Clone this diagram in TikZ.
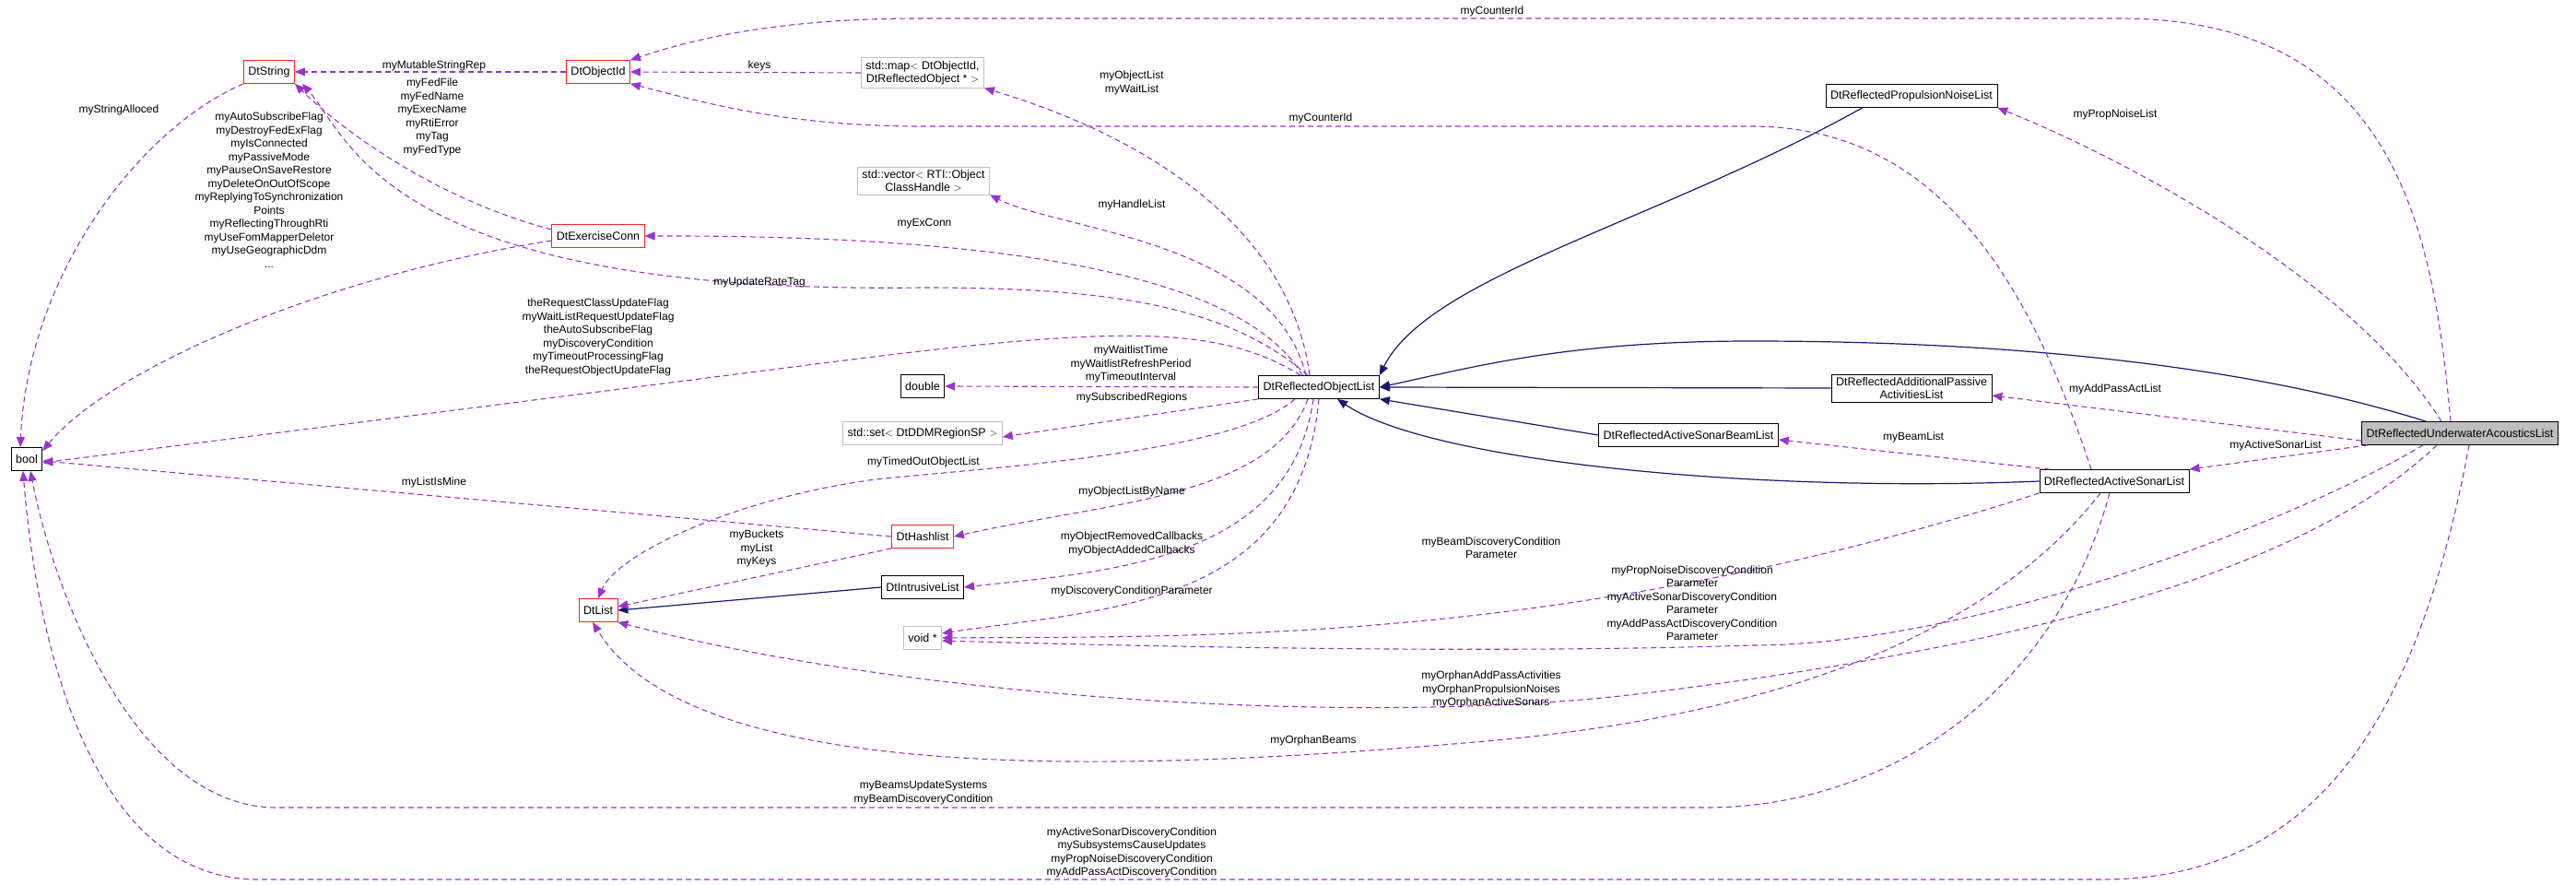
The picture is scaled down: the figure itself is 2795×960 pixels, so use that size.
\documentclass[tikz,border=0pt]{standalone}
\usepackage{fontspec}
\setmainfont{Liberation Sans}
\usepackage{tikz}
\usetikzlibrary{arrows.meta}

\definecolor{usecol}{HTML}{9A32CD}
\definecolor{inhcol}{HTML}{191970}
\definecolor{redbox}{HTML}{FF2020}
\definecolor{graybox}{HTML}{BFBFBF}

\tikzset{
  cls/.style={draw=black, thick, fill=white, inner xsep=5pt, minimum height=25pt, font=\fontsize{12.5}{14}\selectfont, align=center},
  redcls/.style={cls, draw=redbox},
  extcls/.style={cls, draw=graybox},
  maincls/.style={cls, fill=graybox},
  use/.style={draw=usecol, line width=1.1pt, dash pattern=on 6pt off 4pt, -{Triangle[length=11pt,width=9pt,fill=usecol]}},
  inh/.style={draw=inhcol, line width=1.2pt, -{Triangle[length=11pt,width=9pt,fill=inhcol]}},
  lbl/.style={font=\fontsize{12}{14.5}\selectfont, align=center, inner sep=0pt}
}

\begin{document}
\begin{tikzpicture}[x=1pt,y=-1pt]
        \useasboundingbox (0,0) rectangle (2795,960);
        % classes
        \node [redcls]  (str)   at (292,78)   {DtString};
        \node [redcls]  (oid)   at (649,78)   {DtObjectId};
        \node [redcls]  (exc)   at (649,256)  {DtExerciseConn};
        \node [cls]     (bool)  at (29,498)   {bool};
        \node [extcls]  (map)   at (1001,79)  {std::map$<$ DtObjectId,\\DtReflectedObject * $>$};
        \node [extcls]  (vec)   at (1002,196) {std::vector$<$ RTI::Object\\ClassHandle $>$};
        \node [cls]     (dbl)   at (1001,419) {double};
        \node [extcls]  (set)   at (1001,470) {std::set$<$ DtDDMRegionSP $>$};
        \node [cls]     (rol)   at (1431,420) {DtReflectedObjectList};
        \node [cls]     (pnl)   at (2074,104) {DtReflectedPropulsionNoiseList};
        \node [cls]     (apl)   at (2074,421) {DtReflectedAdditionalPassive\\ActivitiesList};
        \node [cls]     (sbl)   at (1832,472) {DtReflectedActiveSonarBeamList};
        \node [maincls] (ual)   at (2669,470) {DtReflectedUnderwaterAcousticsList};
        \node [cls]     (asl)   at (2294,522) {DtReflectedActiveSonarList};
        \node [redcls]  (hash)  at (1001,582) {DtHashlist};
        \node [cls]     (ilist) at (1001,637) {DtIntrusiveList};
        \node [redcls]  (list)  at (649,662)  {DtList};
        \node [extcls]  (void)  at (1001,692) {void *};

        % inheritance
        \draw [inh] (pnl.south west) ++(40,0) .. controls (1800,240) and (1550,300) .. (rol.north east);
        \draw [inh] (ual.north west) ++(70,0) .. controls (2450,400) and (2200,370) .. (1900,370) .. controls (1700,370) and (1600,398) .. (rol.east);
        \draw [inh] (apl.west) -- (rol.east);
        \draw [inh] (sbl.west) -- (rol.south east);
        \draw [inh] (asl.west) .. controls (1900,535) and (1550,500) .. ([xshift=20pt]rol.south);
        \draw [inh] (ilist.west) -- (list.east);

        % usage
        \draw [use] (str.south west) .. controls (150,140) and (30,300) .. ([xshift=-7pt]bool.north);           % myStringAlloced
        \draw [use] (oid.west) -- (str.east);                                                                       % myMutableStringRep
        \draw [use] (exc.west) ++(0,-7) .. controls (470,215) and (370,140) .. (str.south east);                   % myFedFile ...
        \draw [use] (exc.west) ++(0,5) .. controls (350,300) and (120,400) .. ([yshift=-4pt]bool.north east);     % myAutoSubscribeFlag ...
        \draw [use] (rol.north) ++(-12,0) .. controls (1330,330) and (1200,312) .. (1000,312) .. controls (420,320) and (380,150) .. ([xshift=8pt]str.south east); % myUpdateRateTag
        \draw [use] (rol.north) ++(-20,0) .. controls (1320,350) and (1200,355) .. (900,393) -- ([yshift=-4pt]bool.east); % theRequestClassUpdateFlag ...
        \draw [use] (map.west) -- (oid.east);                                                                       % keys
        \draw [use] ([xshift=-10pt]ual.north) .. controls (2640,250) and (2600,20) .. (2300,20) -- (1000,20) .. controls (850,20) and (760,40) .. (oid.north east); % myCounterId
        \draw [use] ([xshift=-25pt]asl.north) .. controls (2200,300) and (2100,137) .. (1900,137) -- (1000,137) .. controls (850,137) and (760,110) .. (oid.south east); % myCounterId
        \draw [use] (rol.north) ++(-10,0) .. controls (1400,250) and (1250,150) .. (map.south east);              % myObjectList
        \draw [use] (rol.north) ++(-14,0) .. controls (1380,260) and (1150,250) .. (vec.south east);              % myHandleList
        \draw [use] (rol.north) ++(-18,0) .. controls (1350,300) and (1100,255) .. (exc.east);                    % myExConn
        \draw [use] (rol.west) -- (dbl.east);                                                                       % myWaitlistTime
        \draw [use] (rol.south west) -- ([yshift=-4pt]set.east);                                                  % mySubscribedRegions
        \draw [use] (rol.south) ++(-26,0) .. controls (1340,490) and (1100,505) .. (950,520) .. controls (800,540) and (670,600) .. (list.north); % myTimedOutObjectList
        \draw [use] (rol.south) ++(-12,0) .. controls (1380,540) and (1200,545) .. (hash.east);                   % myObjectListByName
        \draw [use] (rol.south) ++(-6,0) .. controls (1400,610) and (1200,620) .. (ilist.east);                    % myObjectRemovedCallbacks
        \draw [use] (rol.south) .. controls (1410,660) and (1200,660) .. ([yshift=5pt]void.east);                  % myDiscoveryConditionParameter
        \draw [use] (hash.west) -- ([yshift=-2pt]bool.east);                                                       % myListIsMine
        \draw [use] (hash.south west) -- ([yshift=4pt]list.east);                                                  % myBuckets
        \draw [use] ([xshift=-20pt]ual.north) .. controls (2550,300) and (2300,170) .. (pnl.south east);          % myPropNoiseList
        \draw [use] ([yshift=-8pt]ual.west) -- ([yshift=-8pt]apl.east);                                             % myAddPassActList
        \draw [use] ([xshift=-100pt]ual.south) -- (asl.north east);                                                 % myActiveSonarList
        \draw [use] ([xshift=-70pt]asl.north) -- ([yshift=-5pt]sbl.east);                                           % myBeamList
        \draw [use] (asl.south west) .. controls (1700,700) and (1300,690) .. (void.east);                         % myBeamDiscoveryConditionParameter
        \draw [use] ([xshift=-40pt]ual.south) .. controls (2500,560) and (2150,700) .. (1900,700) .. controls (1600,710) and (1200,700) .. ([yshift=-3pt]void.east); % myPropNoiseDiscoveryConditionParameter
        \draw [use] ([xshift=-25pt]ual.south) .. controls (2500,620) and (2200,700) .. (1800,750) .. controls (1500,790) and (1000,760) .. (list.south east); % myOrphanAddPassActivities
        \draw [use] ([xshift=-15pt]asl.south) .. controls (2150,700) and (1900,780) .. (1600,805) .. controls (1200,840) and (750,850) .. ([xshift=-6pt]list.south); % myOrphanBeams
        \draw [use] ([xshift=-5pt]asl.south) .. controls (2230,750) and (2050,876) .. (1850,876) -- (300,876) .. controls (150,876) and (60,650) .. ([xshift=4pt]bool.south); % myBeamsUpdateSystems
        \draw [use] ([xshift=10pt]ual.south) .. controls (2620,800) and (2500,954) .. (2280,954) -- (280,954) .. controls (100,954) and (40,700) .. ([xshift=-4pt]bool.south); % myActiveSonarDiscoveryCondition

        % labels
        \node [lbl] (l1)  at (129,119)  {myStringAlloced};
        \node [lbl] (l2)  at (471,71)   {myMutableStringRep};
        \node [lbl] (l3)  at (469,127)  {myFedFile\\myFedName\\myExecName\\myRtiError\\myTag\\myFedType};
        \node [lbl] (l4)  at (292,206)  {myAutoSubscribeFlag\\myDestroyFedExFlag\\myIsConnected\\myPassiveMode\\myPauseOnSaveRestore\\myDeleteOnOutOfScope\\myReplyingToSynchronization\\Points\\myReflectingThroughRti\\myUseFomMapperDeletor\\myUseGeographicDdm\\...};
        \node [lbl] (l5)  at (824,306)  {myUpdateRateTag};
        \node [lbl] (l6)  at (649,366)  {theRequestClassUpdateFlag\\myWaitListRequestUpdateFlag\\theAutoSubscribeFlag\\myDiscoveryCondition\\myTimeoutProcessingFlag\\theRequestObjectUpdateFlag};
        \node [lbl] (l7)  at (824,71)   {keys};
        \node [lbl] (l8)  at (1619,12)  {myCounterId};
        \node [lbl] (l9)  at (1433,128) {myCounterId};
        \node [lbl] (l10) at (1228,90)  {myObjectList\\myWaitList};
        \node [lbl] (l11) at (1228,222) {myHandleList};
        \node [lbl] (l12) at (1003,243) {myExConn};
        \node [lbl] (l13) at (1227,395) {myWaitlistTime\\myWaitlistRefreshPeriod\\myTimeoutInterval};
        \node [lbl] (l14) at (1228,431) {mySubscribedRegions};
        \node [lbl] (l15) at (1002,501) {myTimedOutObjectList};
        \node [lbl] (l16) at (1228,533) {myObjectListByName};
        \node [lbl] (l17) at (1228,590) {myObjectRemovedCallbacks\\myObjectAddedCallbacks};
        \node [lbl] (l18) at (1228,641) {myDiscoveryConditionParameter};
        \node [lbl] (l19) at (471,523)  {myListIsMine};
        \node [lbl] (l20) at (821,595)  {myBuckets\\myList\\myKeys};
        \node [lbl] (l21) at (2295,124) {myPropNoiseList};
        \node [lbl] (l22) at (2295,422) {myAddPassActList};
        \node [lbl] (l23) at (2469,483) {myActiveSonarList};
        \node [lbl] (l24) at (2076,474) {myBeamList};
        \node [lbl] (l25) at (1618,594) {myBeamDiscoveryCondition\\Parameter};
        \node [lbl] (l26) at (1836,654) {myPropNoiseDiscoveryCondition\\Parameter\\myActiveSonarDiscoveryCondition\\Parameter\\myAddPassActDiscoveryCondition\\Parameter};
        \node [lbl] (l27) at (1618,748) {myOrphanAddPassActivities\\myOrphanPropulsionNoises\\myOrphanActiveSonars};
        \node [lbl] (l28) at (1425,803) {myOrphanBeams};
        \node [lbl] (l29) at (1002,860) {myBeamsUpdateSystems\\myBeamDiscoveryCondition};
        \node [lbl] (l30) at (1228,925) {myActiveSonarDiscoveryCondition\\mySubsystemsCauseUpdates\\myPropNoiseDiscoveryCondition\\myAddPassActDiscoveryCondition};
      \end{tikzpicture}
\end{document}
